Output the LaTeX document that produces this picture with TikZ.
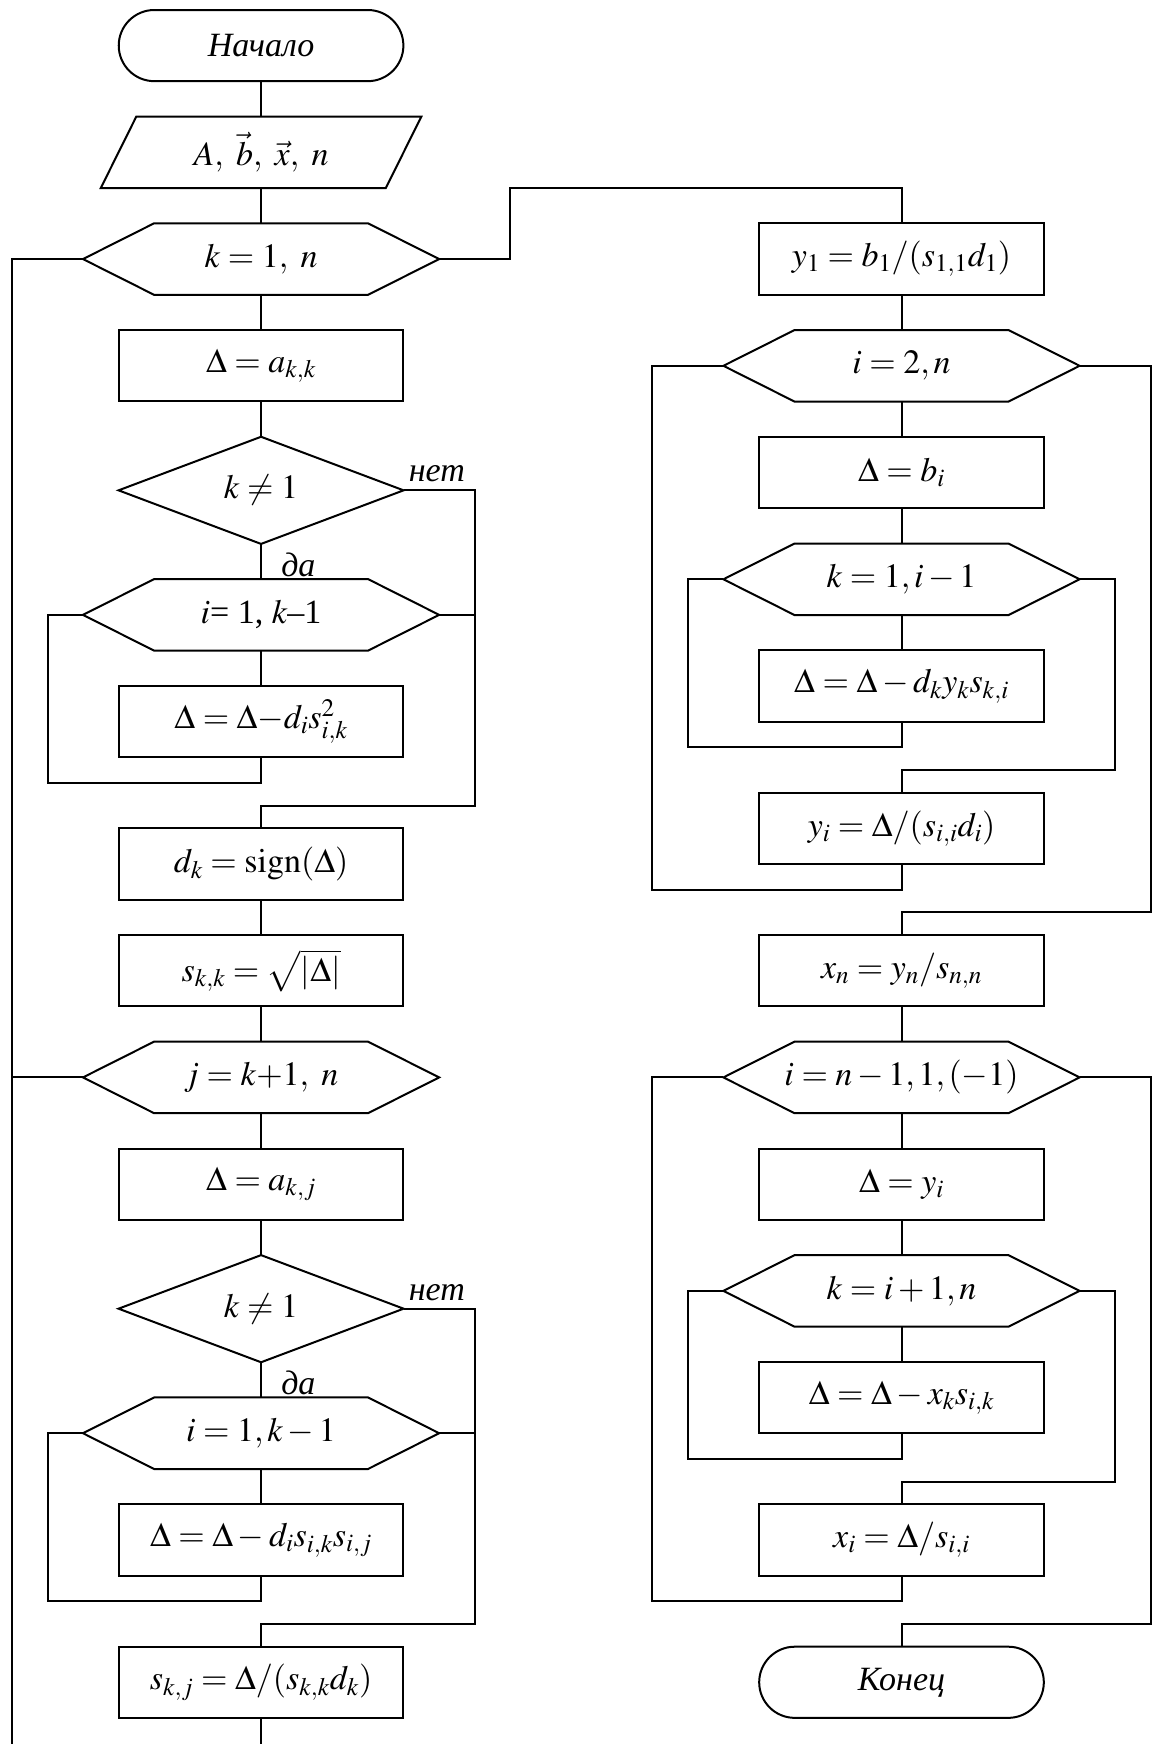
\documentclass[tikz,border=0pt]{standalone}
\usepackage{mathptmx}
\usepackage{fontspec}
\setmainfont{Liberation Serif}
\usetikzlibrary{calc}
\tikzset{
  every node/.style={font=\fontsize{34}{40}\selectfont},
  conn/.style={line width=2pt},
  proc/.style={draw, line width=2pt, minimum width=284.64pt, minimum height=71.16pt, inner sep=0pt},
  term/.style={proc, rounded corners=35.58pt},
  ionode/.style={minimum width=284.64pt, minimum height=71.16pt, inner sep=0pt},
  hexnode/.style={minimum width=355.8pt, minimum height=71.16pt, inner sep=0pt},
  decnode/.style={minimum width=284.64pt, minimum height=106.74pt, inner sep=0pt},
  lbl/.style={inner sep=0pt, font=\fontsize{34}{40}\selectfont\itshape},
}
\newcommand{\hexshape}[1]{\draw[conn] (#1.west) -- ([xshift=71.16pt]#1.north west) -- ([xshift=-71.16pt]#1.north east) -- (#1.east) -- ([xshift=-71.16pt]#1.south east) -- ([xshift=71.16pt]#1.south west) -- cycle;}
\newcommand{\diamshape}[1]{\draw[conn] (#1.west) -- (#1.north) -- (#1.east) -- (#1.south) -- cycle;}
\newcommand{\parashape}[1]{\draw[conn] ([xshift=-17.79pt]#1.south west) -- ([xshift=17.79pt]#1.north west) -- ([xshift=17.79pt]#1.north east) -- ([xshift=-17.79pt]#1.south east) -- cycle;}
\begin{document}
\begin{tikzpicture}[x=35.58pt, y=-35.58pt]
\useasboundingbox (-0.3373,-0.2811) rectangle (32.04,48.735);
% ---------- left column ----------
\node[term] (start) at (7,1) {\itshape Начало};
\node[ionode] (inp) at (7,4) {$A,\ \vec{b},\ \vec{x},\ n$};
\node[hexnode] (hk) at (7,7) {$k = 1,\ n$};
\node[proc] (b1) at (7,10) {$\Delta = a_{k,k}$};
\node[decnode] (d1) at (7,13.5) {$k \ne 1$};
\node[hexnode] (hi1) at (7,17) {$i$= 1, $k$–1};
\node[proc] (b2) at (7,20) {$\Delta = \Delta{-}d_i s_{i,k}^{2}$};
\node[proc] (b3) at (7,24) {$d_k = \mathrm{sign}(\Delta)$};
\node[proc] (b4) at (7,27) {$s_{k,k} = \sqrt{|\Delta|}$};
\node[hexnode] (hj) at (7,30) {$j = k{+}1,\ n$};
\node[proc] (b5) at (7,33) {$\Delta = a_{k,j}$};
\node[decnode] (d2) at (7,36.5) {$k \ne 1$};
\node[hexnode] (hi2) at (7,40) {$i = 1, k - 1$};
\node[proc] (b6) at (7,43) {$\Delta = \Delta - d_i s_{i,k} s_{i,j}$};
\node[proc] (b7) at (7,47) {$s_{k,j} = \Delta/(s_{k,k} d_k)$};
\parashape{inp}
\hexshape{hk}
\hexshape{hi1}
\hexshape{hj}
\hexshape{hi2}
\diamshape{d1}
\diamshape{d2}
\node[lbl, anchor=south west] (no1) at ([xshift=5pt,yshift=8pt]d1.east) {нет};
\node[lbl, anchor=south west] (yes1) at ([xshift=20pt,yshift=2pt]hi1.north) {да};
\node[lbl, anchor=south west] (no2) at ([xshift=5pt,yshift=8pt]d2.east) {нет};
\node[lbl, anchor=south west] (yes2) at ([xshift=20pt,yshift=2pt]hi2.north) {да};
% ---------- right column ----------
\node[proc] (r1) at (25,7) {$y_1 = b_1/(s_{1,1} d_1)$};
\node[hexnode] (rh1) at (25,10) {$i = 2, n$};
\node[proc] (r2) at (25,13) {$\Delta = b_i$};
\node[hexnode] (rh2) at (25,16) {$k = 1, i - 1$};
\node[proc] (r3) at (25,19) {$\Delta = \Delta - d_k y_k s_{k,i}$};
\node[proc] (r4) at (25,23) {$y_i = \Delta/(s_{i,i} d_i)$};
\node[proc] (r5) at (25,27) {$x_n = y_n / s_{n,n}$};
\node[hexnode] (rh3) at (25,30) {$i = n - 1, 1, (-1)$};
\node[proc] (r6) at (25,33) {$\Delta = y_i$};
\node[hexnode] (rh4) at (25,36) {$k = i + 1, n$};
\node[proc] (r7) at (25,39) {$\Delta = \Delta - x_k s_{i,k}$};
\node[proc] (r8) at (25,43) {$x_i = \Delta / s_{i,i}$};
\node[term] (end) at (25,47) {\itshape Конец};
\hexshape{rh1}
\hexshape{rh2}
\hexshape{rh3}
\hexshape{rh4}
% ---------- connectors left ----------
\draw[conn] (start.south) -- (inp.north);
\draw[conn] (inp.south) -- (hk.north);
\draw[conn] (hk.south) -- (b1.north);
\draw[conn] (b1.south) -- (d1.north);
\draw[conn] (d1.south) -- (hi1.north);
\draw[conn] (hi1.south) -- (b2.north);
\draw[conn] (b2.south) -- (7,21.72) -| (1,17) -- (hi1.west);
\draw[conn] (d1.east) -- (13,13.5) -- (13,22.36) -| (b3.north);
\draw[conn] (hi1.east) -- (13,17);
\draw[conn] (b3.south) -- (b4.north);
\draw[conn] (b4.south) -- (hj.north);
\draw[conn] (hj.south) -- (b5.north);
\draw[conn] (b5.south) -- (d2.north);
\draw[conn] (d2.south) -- (hi2.north);
\draw[conn] (hi2.south) -- (b6.north);
\draw[conn] (b6.south) -- (7,44.72) -| (1,40) -- (hi2.west);
\draw[conn] (d2.east) -- (13,36.5) -- (13,45.36) -| (b7.north);
\draw[conn] (hi2.east) -- (13,40);
\draw[conn] (b7.south) -- (7,49);
\draw[conn] (hk.west) -- (0,7) -- (0,49);
\draw[conn] (hj.west) -- (0,30);
\draw[conn] (hk.east) -- (14,7) -- (14,5) -| (r1.north);
% ---------- connectors right ----------
\draw[conn] (r1.south) -- (rh1.north);
\draw[conn] (rh1.south) -- (r2.north);
\draw[conn] (r2.south) -- (rh2.north);
\draw[conn] (rh2.south) -- (r3.north);
\draw[conn] (r3.south) -- (25,20.72) -| (19,16) -- (rh2.west);
\draw[conn] (rh2.east) -- (31,16) -- (31,21.36) -| (r4.north);
\draw[conn] (r4.south) -- (25,24.72) -| (18,10) -- (rh1.west);
\draw[conn] (rh1.east) -- (32,10) -- (32,25.36) -| (r5.north);
\draw[conn] (r5.south) -- (rh3.north);
\draw[conn] (rh3.south) -- (r6.north);
\draw[conn] (r6.south) -- (rh4.north);
\draw[conn] (rh4.south) -- (r7.north);
\draw[conn] (r7.south) -- (25,40.72) -| (19,36) -- (rh4.west);
\draw[conn] (rh4.east) -- (31,36) -- (31,41.36) -| (r8.north);
\draw[conn] (r8.south) -- (25,44.72) -| (18,30) -- (rh3.west);
\draw[conn] (rh3.east) -- (32,30) -- (32,45.36) -| (end.north);
\end{tikzpicture}
\end{document}
